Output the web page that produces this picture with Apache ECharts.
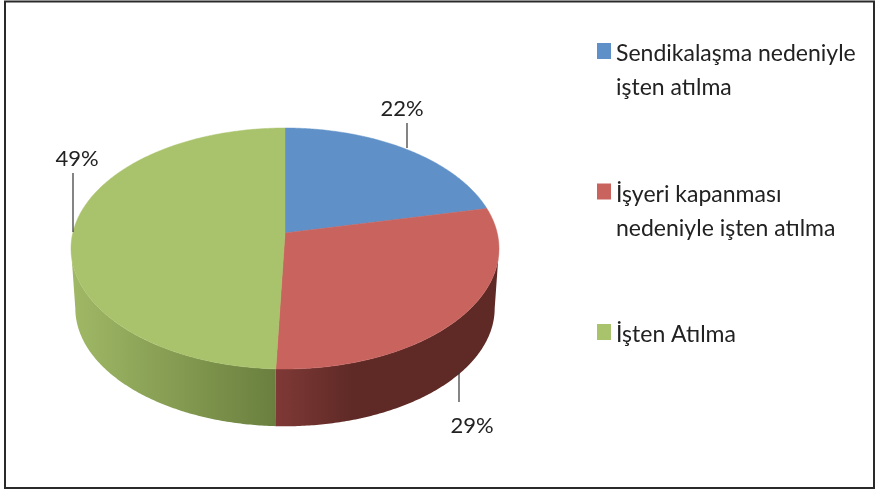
<!DOCTYPE html>
<html><head><meta charset="utf-8">
<style>html,body{margin:0;padding:0;background:#fff}#c{width:876px;height:492px}</style>
<script src="https://cdn.jsdelivr.net/npm/echarts@6/dist/echarts.min.js"></script>
</head><body><div id="c"></div>
<script>
var categories = ['Sendikalaşma nedeniyle\nişten atılma', 'İşyeri kapanması\nnedeniyle işten atılma', 'İşten Atılma'];
var values = [21.6, 29, 49.4];
var topColors = ['#5F90C7', '#C9635E', '#A9C26C'];
var wallStops = [
  [[0, '#3E5F85'], [1, '#3E5F85']],
  [[0, '#7F3936'], [0.34, '#5F2A26'], [1, '#5F2A26']],
  [[0, '#A0B966'], [1, '#6A7F3E']]
];

var FONT = 'Lato';
var INK = '#222222';
var pie = {cx: 285, cy: 233, a: 212.2, b: 118.5, k: 0.1286, depth: 60, shrink: 0.98};
var labelLayout = [
  {x: 402, y: 109, line: [407, 123, 407, 148]},
  {x: 472, y: 426, line: [459, 373, 459, 402]},
  {x: 77, y: 159, line: [73, 173, 73, 232]}
];
var total = values.reduce(function (s, v) { return s + v; }, 0);

function rim(t) {
  var u = Math.sin(t), v = -Math.cos(t), w = 1 + pie.k * Math.cos(t);
  return [pie.cx + pie.a * u / w, pie.cy + pie.b * v / w];
}
function lower(p) {
  return [pie.cx + (p[0] - pie.cx) * pie.shrink, pie.cy + (p[1] - pie.cy) * pie.shrink + pie.depth];
}
function arc(t0, t1) {
  var pts = [], n = Math.max(2, Math.ceil((t1 - t0) / 0.01));
  for (var i = 0; i <= n; i++) pts.push(rim(t0 + (t1 - t0) * i / n));
  return pts;
}
var silR = Math.acos(-pie.k), silL = 2 * Math.PI - silR;

function makeRender(idx) {
  return function (params, api) {
    var before = values.slice(0, idx).reduce(function (s, v) { return s + v; }, 0);
    var v = api.value(0);
    var t0 = before / total * 2 * Math.PI, t1 = (before + v) / total * 2 * Math.PI;
    var children = [];
    var w0 = Math.max(t0, silR), w1 = Math.min(t1, silL);
    if (w1 > w0) {
      var topEdge = arc(w0, w1);
      var wall = topEdge.concat(topEdge.map(lower).reverse());
      children.push({
        type: 'polygon', shape: {points: wall},
        style: {fill: new echarts.graphic.LinearGradient(0, 0, 1, 0, wallStops[idx].map(function (s) {
          return {offset: s[0], color: s[1]};
        }))}
      });
    }
    children.push({
      type: 'polygon',
      shape: {points: [[pie.cx, pie.cy]].concat(arc(t0, t1))},
      style: {fill: topColors[idx], stroke: topColors[idx], lineWidth: 0.5}
    });
    var l = labelLayout[idx];
    children.push({
      type: 'line',
      shape: {x1: l.line[0], y1: l.line[1], x2: l.line[2], y2: l.line[3]},
      style: {stroke: '#333333', lineWidth: 1.2}
    });
    children.push({
      type: 'text',
      style: {x: l.x, y: l.y, text: Math.round(v / total * 100) + '%', fill: INK, font: '22px ' + FONT, align: 'center', verticalAlign: 'middle'}
    });
    return {type: 'group', children: children};
  };
}

var chart = echarts.init(document.getElementById('c'), null, {renderer: 'canvas'});
chart.setOption({
  animation: false,
  backgroundColor: '#ffffff',
  legend: {
    orient: 'vertical', left: 597, top: 12, padding: 0,
    itemWidth: 14, itemHeight: 16, itemGap: 53, selectedMode: false, icon: 'rect',
    textStyle: {
      fontFamily: FONT, fontSize: 23, color: INK,
      rich: {
        gap: {fontFamily: FONT, fontSize: 10, lineHeight: 40},
        t: {fontFamily: FONT, fontSize: 23, lineHeight: 34, color: INK}
      }
    },
    itemStyle: {borderWidth: 0},
    formatter: function (n) {
      var lines = n.split('\n');
      return '{gap| }\n{t|' + lines[0] + '}\n{t|' + (lines[1] || ' ') + '}';
    },
    data: categories
  },
  graphic: [{
    type: 'rect', shape: {x: 5, y: 1.5, width: 869, height: 486.5},
    style: {fill: 'none', stroke: '#2a2a2a', lineWidth: 2}, silent: true
  }],
  series: categories.map(function (name, i) {
    return {
      type: 'custom', name: name, coordinateSystem: 'none',
      data: [[values[i]]], renderItem: makeRender(i),
      itemStyle: {color: topColors[i]}, silent: true
    };
  })
});
</script></body></html>
